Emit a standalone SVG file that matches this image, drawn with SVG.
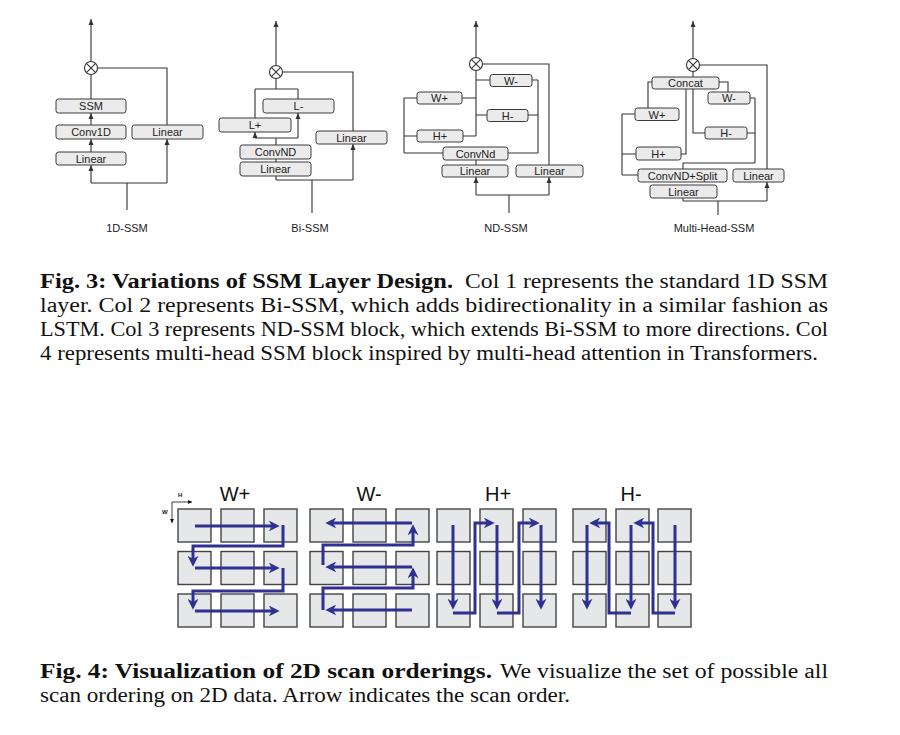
<svg xmlns="http://www.w3.org/2000/svg" width="900" height="735" viewBox="0 0 900 735">
<style>
.box{fill:#ebebeb;stroke:#3a3a3a;stroke-width:1}
.bt{font-family:"Liberation Sans",Arial,sans-serif;font-size:11px;text-anchor:middle;fill:#222}
.lbl{font-family:"Liberation Sans",Arial,sans-serif;font-size:11px;text-anchor:middle;fill:#222}
.ln{fill:none;stroke:#333;stroke-width:1.1}
.ar{fill:none;stroke:#333;stroke-width:1.1;marker-end:url(#sm)}
.cap{font-family:"Liberation Serif","Times New Roman",serif;font-size:20px;fill:#111}
.b{font-weight:bold}
.sq{fill:#e6e7e9;stroke:#444;stroke-width:1.4}
.sc{fill:none;stroke:#2e3192;stroke-width:3;marker-end:url(#bh)}
.big{font-family:"Liberation Sans",Arial,sans-serif;font-size:20px;text-anchor:middle;fill:#111}
.tiny{font-family:"Liberation Sans",Arial,sans-serif;font-size:6px;font-weight:bold;fill:#111}
</style>
<defs>
<marker id="sm" markerUnits="userSpaceOnUse" markerWidth="6" markerHeight="6" viewBox="0 0 6 6" refX="6" refY="3" orient="auto"><path d="M0,0.5 L6,3 L0,5.5 z" fill="#333"/></marker>
<marker id="bh" markerUnits="userSpaceOnUse" markerWidth="11" markerHeight="11" viewBox="0 0 10 10" refX="3" refY="5" orient="auto"><path d="M0,0 L10,5 L0,10 L3,5 z" fill="#2e3192"/></marker>
<marker id="ax" markerUnits="userSpaceOnUse" markerWidth="4" markerHeight="4" viewBox="0 0 6 6" refX="6" refY="3" orient="auto"><path d="M0,0 L6,3 L0,6 z" fill="#111"/></marker>
<g id="otimes"><circle r="6.5" fill="#fff" stroke="#333" stroke-width="1.1"/><path d="M-4.6,-4.6 L4.6,4.6 M4.6,-4.6 L-4.6,4.6" stroke="#333" stroke-width="1.1"/></g>
</defs>
<rect width="900" height="735" fill="#fff"/>

<!-- ============ Col 1: 1D-SSM ============ -->
<g id="connectors-col1">
<path class="ar" d="M91,61.5 V19"/>
<path class="ln" d="M91,74.5 V99"/>
<path class="ln" d="M97.5,68 H167 V125"/>
<path class="ar" d="M91,125 V113"/>
<path class="ar" d="M91,152 V139"/>
<path class="ln" d="M127,210 V183 M91,183 H167"/>
<path class="ar" d="M91,183 V165"/>
<path class="ar" d="M167,183 V139"/>
</g>
<g id="c1-mul"><use href="#otimes" x="91" y="68"/></g>
<g id="c1-ssm"><rect class="box" x="56" y="99" width="70" height="14" rx="2.5"/><text class="bt" x="91" y="110">SSM</text></g>
<g id="c1-conv"><rect class="box" x="56" y="125" width="70" height="14" rx="2.5"/><text class="bt" x="91" y="136">Conv1D</text></g>
<g id="c1-lin"><rect class="box" x="56" y="152" width="70" height="13" rx="2.5"/><text class="bt" x="91" y="162.5">Linear</text></g>
<g id="c1-lin2"><rect class="box" x="132" y="125" width="71" height="14" rx="2.5"/><text class="bt" x="167.5" y="136">Linear</text></g>
<text class="lbl" x="127" y="232">1D-SSM</text>

<!-- ============ Col 2: Bi-SSM ============ -->
<g id="connectors-col2">
<path class="ar" d="M276,65.5 V21"/>
<path class="ln" d="M282.5,72 H353 V131"/>
<path class="ln" d="M276,78.5 V89 M255,89 H298 M255,89 V118 M298,89 V99"/>
<path class="ln" d="M276,145 V138 M255,138 H298"/>
<path class="ar" d="M255,138 V132"/>
<path class="ar" d="M298,138 V113"/>
<path class="ln" d="M276,159 V162"/>
<path class="ln" d="M312,213 V180 M276,180 H353 M276,180 V176"/>
<path class="ar" d="M353,180 V144"/>
</g>
<g id="c2-mul"><use href="#otimes" x="276" y="72"/></g>
<g id="c2-lminus"><rect class="box" x="263" y="99" width="71" height="14" rx="2.5"/><text class="bt" x="298.5" y="110">L-</text></g>
<g id="c2-lplus"><rect class="box" x="219" y="118" width="72" height="14" rx="2.5"/><text class="bt" x="255" y="129">L+</text></g>
<g id="c2-lin2"><rect class="box" x="316" y="131" width="71" height="13" rx="2.5"/><text class="bt" x="351.5" y="141.5">Linear</text></g>
<g id="c2-conv"><rect class="box" x="240" y="145" width="71" height="14" rx="2.5"/><text class="bt" x="275.5" y="156">ConvND</text></g>
<g id="c2-lin"><rect class="box" x="240" y="162" width="71" height="14" rx="2.5"/><text class="bt" x="275.5" y="173">Linear</text></g>
<text class="lbl" x="310" y="232">Bi-SSM</text>

<!-- ============ Col 3: ND-SSM ============ -->
<g id="connectors-col3">
<path class="ar" d="M476,57.5 V21"/>
<path class="ln" d="M482.5,64 H549 V166"/>
<path class="ln" d="M476,70.5 V136 M476,80 H490 M462,98 H476 M476,115 H487 M463,136 H476"/>
<path class="ln" d="M404,98 V153 M404,98 H417 M404,136 H417 M404,153 H443"/>
<path class="ln" d="M538,80 V153 M532,80 H538 M528,115 H538 M508,153 H538"/>
<path class="ln" d="M476,160 V165"/>
<path class="ln" d="M509,213 V195 M476,195 H549"/>
<path class="ar" d="M476,195 V177"/>
<path class="ar" d="M549,195 V177"/>
</g>
<g id="c3-mul"><use href="#otimes" x="476" y="64"/></g>
<g id="c3-wminus"><rect class="box" x="490" y="74.5" width="42" height="12" rx="2.5"/><text class="bt" x="511" y="84.5">W-</text></g>
<g id="c3-wplus"><rect class="box" x="417" y="92" width="45" height="12" rx="2.5"/><text class="bt" x="439.5" y="102">W+</text></g>
<g id="c3-hminus"><rect class="box" x="487" y="109.5" width="41" height="12" rx="2.5"/><text class="bt" x="507.5" y="119.5">H-</text></g>
<g id="c3-hplus"><rect class="box" x="417" y="130" width="46" height="12" rx="2.5"/><text class="bt" x="440" y="140">H+</text></g>
<g id="c3-conv"><rect class="box" x="443" y="147" width="65" height="13" rx="2.5"/><text class="bt" x="475.5" y="157.5">ConvNd</text></g>
<g id="c3-lin"><rect class="box" x="442" y="165" width="66" height="12" rx="2.5"/><text class="bt" x="475" y="175">Linear</text></g>
<g id="c3-lin2"><rect class="box" x="516" y="165" width="67" height="12" rx="2.5"/><text class="bt" x="549.5" y="175">Linear</text></g>
<text class="lbl" x="506" y="232">ND-SSM</text>

<!-- ============ Col 4: Multi-Head-SSM ============ -->
<g id="connectors-col4">
<path class="ar" d="M693,58.5 V21"/>
<path class="ln" d="M699.5,65 H767 V169"/>
<path class="ln" d="M693,71.5 V77"/>
<path class="ln" d="M719,82 H728 V92"/>
<path class="ln" d="M652,82 H648 V108"/>
<path class="ln" d="M693,89 V133 H705"/>
<path class="ln" d="M681,154 H686 V89"/>
<path class="ln" d="M622,114 V175 M622,114 H635 M622,154 H636 M622,175 H638"/>
<path class="ln" d="M755,98 V163 M750,98 H755 M747,133 H755 M755,163 H683 V169"/>
<path class="ln" d="M718,215 V201 M683,201 H767 M683,201 V198"/>
<path class="ar" d="M767,201 V182"/>
</g>
<g id="c4-mul"><use href="#otimes" x="693" y="65"/></g>
<g id="c4-concat"><rect class="box" x="652" y="77" width="67" height="12" rx="2.5"/><text class="bt" x="685.5" y="87">Concat</text></g>
<g id="c4-wminus"><rect class="box" x="708" y="92" width="42" height="12" rx="2.5"/><text class="bt" x="729" y="102">W-</text></g>
<g id="c4-wplus"><rect class="box" x="635" y="108" width="44" height="12.5" rx="2.5"/><text class="bt" x="657" y="118.5">W+</text></g>
<g id="c4-hminus"><rect class="box" x="705" y="127" width="42" height="12" rx="2.5"/><text class="bt" x="726" y="137">H-</text></g>
<g id="c4-hplus"><rect class="box" x="636" y="147" width="45" height="13" rx="2.5"/><text class="bt" x="658.5" y="157.5">H+</text></g>
<g id="c4-conv"><rect class="box" x="638" y="169" width="89" height="13" rx="2.5"/><text class="bt" x="682.5" y="179.5">ConvND+Split</text></g>
<g id="c4-lin2"><rect class="box" x="733" y="169" width="51" height="13" rx="2.5"/><text class="bt" x="758.5" y="179.5">Linear</text></g>
<g id="c4-lin"><rect class="box" x="650" y="185" width="67" height="13" rx="2.5"/><text class="bt" x="683.5" y="195.5">Linear</text></g>
<text class="lbl" x="714" y="232">Multi-Head-SSM</text>

<!-- ============ Fig. 3 caption ============ -->
<text class="cap b" x="40" y="288" textLength="413" lengthAdjust="spacingAndGlyphs">Fig. 3: Variations of SSM Layer Design.</text>
<text class="cap" x="465" y="288" textLength="363" lengthAdjust="spacingAndGlyphs">Col 1 represents the standard 1D SSM</text>
<text class="cap" x="40" y="312" textLength="788" lengthAdjust="spacingAndGlyphs">layer. Col 2 represents Bi-SSM, which adds bidirectionality in a similar fashion as</text>
<text class="cap" x="40" y="336" textLength="788" lengthAdjust="spacingAndGlyphs">LSTM. Col 3 represents ND-SSM block, which extends Bi-SSM to more directions. Col</text>
<text class="cap" x="40" y="360" textLength="778" lengthAdjust="spacingAndGlyphs">4 represents multi-head SSM block inspired by multi-head attention in Transformers.</text>

<!-- ============ Fig. 4: scan orderings ============ -->
<g id="axes">
<path d="M172,502 H192" stroke="#111" stroke-width="0.8" marker-end="url(#ax)"/>
<path d="M172,502 V523" stroke="#111" stroke-width="0.8" marker-end="url(#ax)"/>
<text class="tiny" x="178" y="497">H</text>
<text class="tiny" x="162" y="514">W</text>
</g>
<g id="grid-wplus">
<rect class="sq" x="178" y="509" width="33" height="33"/><rect class="sq" x="221" y="509" width="33" height="33"/><rect class="sq" x="264" y="509" width="33" height="33"/>
<rect class="sq" x="178" y="551.5" width="33" height="33"/><rect class="sq" x="221" y="551.5" width="33" height="33"/><rect class="sq" x="264" y="551.5" width="33" height="33"/>
<rect class="sq" x="178" y="594" width="33" height="33"/><rect class="sq" x="221" y="594" width="33" height="33"/><rect class="sq" x="264" y="594" width="33" height="33"/>
<text class="big" x="235" y="501">W+</text>
</g>
<g id="grid-wminus">
<rect class="sq" x="310" y="509" width="33" height="33"/><rect class="sq" x="353" y="509" width="33" height="33"/><rect class="sq" x="396" y="509" width="33" height="33"/>
<rect class="sq" x="310" y="551.5" width="33" height="33"/><rect class="sq" x="353" y="551.5" width="33" height="33"/><rect class="sq" x="396" y="551.5" width="33" height="33"/>
<rect class="sq" x="310" y="594" width="33" height="33"/><rect class="sq" x="353" y="594" width="33" height="33"/><rect class="sq" x="396" y="594" width="33" height="33"/>
<text class="big" x="369" y="501">W-</text>
</g>
<g id="grid-hplus">
<rect class="sq" x="437" y="509" width="33" height="33"/><rect class="sq" x="480" y="509" width="33" height="33"/><rect class="sq" x="523" y="509" width="33" height="33"/>
<rect class="sq" x="437" y="551.5" width="33" height="33"/><rect class="sq" x="480" y="551.5" width="33" height="33"/><rect class="sq" x="523" y="551.5" width="33" height="33"/>
<rect class="sq" x="437" y="594" width="33" height="33"/><rect class="sq" x="480" y="594" width="33" height="33"/><rect class="sq" x="523" y="594" width="33" height="33"/>
<text class="big" x="498" y="501">H+</text>
</g>
<g id="grid-hminus">
<rect class="sq" x="573" y="509" width="33" height="33"/><rect class="sq" x="616" y="509" width="33" height="33"/><rect class="sq" x="658" y="509" width="33" height="33"/>
<rect class="sq" x="573" y="551.5" width="33" height="33"/><rect class="sq" x="616" y="551.5" width="33" height="33"/><rect class="sq" x="658" y="551.5" width="33" height="33"/>
<rect class="sq" x="573" y="594" width="33" height="33"/><rect class="sq" x="616" y="594" width="33" height="33"/><rect class="sq" x="658" y="594" width="33" height="33"/>
<text class="big" x="631" y="501">H-</text>
</g>
<g id="scan-arrows">
<path class="sc" d="M195,526 H272"/>
<path class="sc" d="M283,525 V546 H193 V559"/>
<path class="sc" d="M195,568 H272"/>
<path class="sc" d="M283,568 V591 H193 V602"/>
<path class="sc" d="M195,611 H272"/>

<path class="sc" d="M412,523 H333"/>
<path class="sc" d="M323,565 V545 H413 V532"/>
<path class="sc" d="M412,567 H333"/>
<path class="sc" d="M323,610 V588 H413 V575"/>
<path class="sc" d="M412,610 H333"/>

<path class="sc" d="M453,525 V602"/>
<path class="sc" d="M453,613 H475 V523 H487"/>
<path class="sc" d="M497,525 V602"/>
<path class="sc" d="M497,613 H519 V523 H532"/>
<path class="sc" d="M541,525 V602"/>

<path class="sc" d="M675,525 V602"/>
<path class="sc" d="M675,613 H653 V523 H641"/>
<path class="sc" d="M631,525 V602"/>
<path class="sc" d="M631,613 H609 V523 H597"/>
<path class="sc" d="M587,525 V602"/>
</g>

<!-- ============ Fig. 4 caption ============ -->
<text class="cap b" x="40" y="678" textLength="452" lengthAdjust="spacingAndGlyphs">Fig. 4: Visualization of 2D scan orderings.</text>
<text class="cap" x="500" y="678" textLength="328" lengthAdjust="spacingAndGlyphs">We visualize the set of possible all</text>
<text class="cap" x="40" y="702" textLength="530" lengthAdjust="spacingAndGlyphs">scan ordering on 2D data. Arrow indicates the scan order.</text>
</svg>
